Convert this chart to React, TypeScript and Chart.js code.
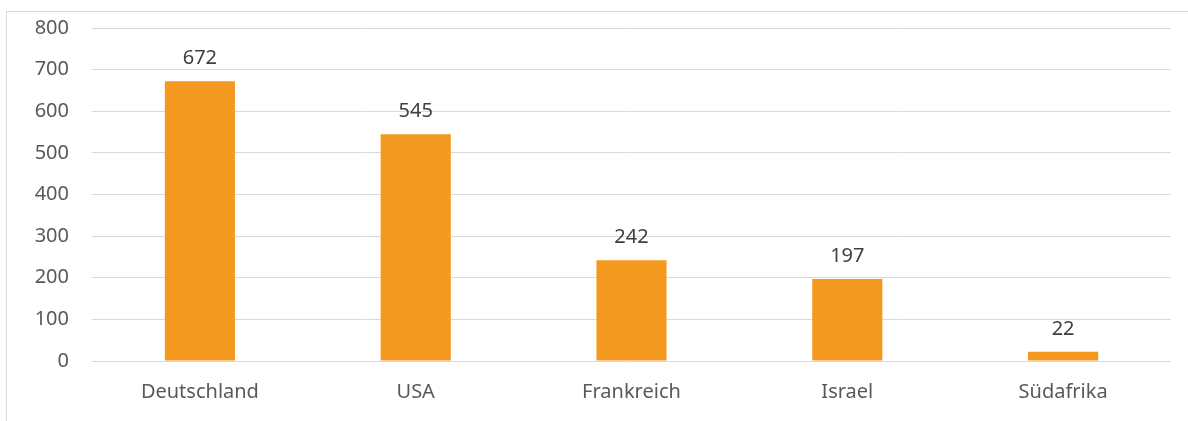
import React, { useEffect, useRef } from "react";
import { Chart, registerables } from "chart.js";

Chart.register(...registerables);

const categories = ["Deutschland", "USA", "Frankreich", "Israel", "Südafrika"];
const values = [672, 545, 242, 197, 22];
const yTicks = [0, 100, 200, 300, 400, 500, 600, 700, 800];

const FONT = "'Noto Sans', sans-serif";

const labelPlugin = {
  id: "barLabels",
  afterDatasetsDraw(chart: any) {
    const ctx = chart.ctx;
    const meta = chart.getDatasetMeta(0);
    ctx.save();
    ctx.font = `20px ${FONT}`;
    ctx.fillStyle = "#404040";
    ctx.textAlign = "center";
    ctx.textBaseline = "bottom";
    meta.data.forEach((bar: any, i: number) => {
      ctx.fillText(String(values[i]), bar.x, bar.y - 13);
    });
    ctx.restore();
  },
};

export default function App() {
  const ref = useRef<HTMLCanvasElement>(null);
  useEffect(() => {
    if (!ref.current) return;
    const chart = new Chart(ref.current, {
      type: "bar",
      data: {
        labels: categories,
        datasets: [
          {
            data: values,
            backgroundColor: "#F4991F",
            barPercentage: 0.65,
            categoryPercentage: 0.5,
          },
        ],
      },
      options: {
        animation: false,
        responsive: false,
        maintainAspectRatio: false,
        layout: { padding: { top: 28, right: 17, left: 0, bottom: 0 } },
        plugins: { legend: { display: false }, tooltip: { enabled: false } },
        scales: {
          x: {
            grid: { display: false, drawTicks: false },
            border: { display: false },
            ticks: {
              color: "#595959",
              font: { family: FONT, size: 20 },
              padding: 19,
            },
            afterFit(scale: any) {
              scale.height = 60;
              scale.paddingLeft = 0;
              scale.paddingRight = 0;
            },
          },
          y: {
            min: 0,
            max: 800,
            afterBuildTicks(scale: any) {
              scale.ticks = yTicks.map((v) => ({ value: v }));
            },
            grid: { color: "#d9d9d9", lineWidth: 1, drawTicks: false },
            border: { display: false },
            ticks: {
              color: "#595959",
              font: { family: FONT, size: 20 },
              padding: 23,
            },
            afterFit(scale: any) {
              scale.width = 92;
              scale.paddingTop = 0;
              scale.paddingBottom = 0;
            },
          },
        },
      },
      plugins: [labelPlugin],
    });
    return () => chart.destroy();
  }, []);
  return (
    <div
      style={{
        position: "absolute",
        left: 0,
        top: 0,
        width: 1188,
        height: 421,
        overflow: "hidden",
        background: "#fff",
      }}
    >
      <div
        style={{
          position: "absolute",
          left: 6,
          top: 11,
          width: 1200,
          height: 430,
          border: "1px solid #d9d9d9",
          boxSizing: "border-box",
        }}
      />
      <canvas
        ref={ref}
        width={1188}
        height={421}
        style={{ position: "absolute", left: 0, top: 0, width: 1188, height: 421 }}
      />
    </div>
  );
}
